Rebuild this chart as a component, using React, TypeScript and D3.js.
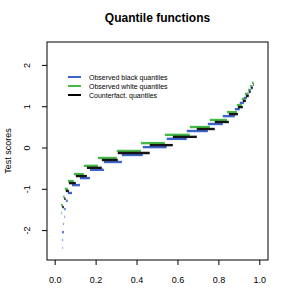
import React, { useRef, useEffect } from 'react'
import * as d3 from 'd3'

// quantile steps: [score level, tau from, tau to]
const blackQuantiles: [number, number, number][] = [
  [-2.37, 0.033, 0.035], [-2.18, 0.033, 0.038], [-1.99, 0.033, 0.043], [-1.79, 0.038, 0.043],
  [-1.62, 0.043, 0.047], [-1.43, 0.043, 0.052], [-1.23, 0.052, 0.062], [-1.04, 0.062, 0.082],
  [-0.85, 0.082, 0.121], [-0.68, 0.121, 0.17], [-0.48, 0.17, 0.238], [-0.29, 0.238, 0.326],
  [-0.12, 0.326, 0.428], [0.07, 0.428, 0.545], [0.27, 0.545, 0.643], [0.46, 0.643, 0.746],
  [0.63, 0.746, 0.819], [0.82, 0.819, 0.878], [0.99, 0.878, 0.902], [1.14, 0.902, 0.922],
  [1.26, 0.922, 0.937], [1.36, 0.937, 0.946], [1.45, 0.946, 0.956], [1.53, 0.956, 0.966]
]

const whiteQuantiles: [number, number, number][] = [
  [-1.62, 0.028, 0.033], [-1.43, 0.028, 0.038], [-1.23, 0.038, 0.047], [-1.04, 0.047, 0.062],
  [-0.85, 0.062, 0.091], [-0.68, 0.091, 0.14], [-0.48, 0.14, 0.209], [-0.29, 0.209, 0.301],
  [-0.12, 0.301, 0.419], [0.07, 0.419, 0.536], [0.27, 0.536, 0.658], [0.46, 0.658, 0.756],
  [0.63, 0.756, 0.839], [0.82, 0.839, 0.888], [0.99, 0.888, 0.912], [1.14, 0.912, 0.927],
  [1.26, 0.927, 0.942], [1.36, 0.942, 0.951], [1.45, 0.951, 0.961], [1.53, 0.961, 0.971]
]

const counterfactQuantiles: [number, number, number][] = [
  [-1.43, 0.033, 0.043], [-1.23, 0.043, 0.052], [-1.04, 0.052, 0.067], [-0.85, 0.067, 0.101],
  [-0.68, 0.101, 0.155], [-0.48, 0.155, 0.228], [-0.29, 0.228, 0.306], [-0.12, 0.306, 0.462],
  [0.07, 0.462, 0.575], [0.27, 0.575, 0.692], [0.46, 0.692, 0.78], [0.63, 0.78, 0.849],
  [0.82, 0.849, 0.893], [0.99, 0.893, 0.917], [1.14, 0.917, 0.932], [1.26, 0.932, 0.946],
  [1.36, 0.946, 0.956], [1.45, 0.956, 0.966], [1.53, 0.966, 0.971]
]

const xTicks = [0, 0.2, 0.4, 0.6, 0.8, 1.0]
const yTicks = [-2, -1, 0, 1, 2]
const legendLabels = ['Observed black quantiles', 'Observed white quantiles', 'Counterfact. quantiles']

const W = 292
const H = 302
const FONT = 'Liberation Sans, Arial, Helvetica, sans-serif'

export default function App() {
  const svgRef = useRef<SVGSVGElement | null>(null)

  useEffect(() => {
    if (!svgRef.current) return
    const svg = d3.select(svgRef.current)
    svg.selectAll('*').remove()

    const margin = { top: 42, right: 24, bottom: 42, left: 47 }
    const x = d3.scaleLinear().domain([-0.04, 1.04]).range([margin.left, W - margin.right])
    const y = d3.scaleLinear().domain([-2.712, 2.567]).range([H - margin.bottom, margin.top])

    svg.append('rect').attr('width', W).attr('height', H).attr('fill', '#fff')

    // series: blue drawn low, green high, black in the middle
    const series = [
      { data: blackQuantiles, color: '#3d62c9', dy: 2 },
      { data: whiteQuantiles, color: '#45b845', dy: -2 },
      { data: counterfactQuantiles, color: '#151515', dy: 0 }
    ]

    series.forEach(s => {
      svg.append('g')
        .selectAll('line')
        .data(s.data)
        .enter().append('line')
        .attr('x1', d => x(d[1]))
        .attr('x2', d => Math.max(x(d[2]), x(d[1]) + 1.2))
        .attr('y1', d => y(d[0]) + s.dy)
        .attr('y2', d => y(d[0]) + s.dy)
        .attr('stroke', s.color)
        .attr('stroke-width', 2.4)
        .attr('opacity', d => Math.min(1, 0.3 + (x(d[2]) - x(d[1])) / 4))
    })

    // box
    svg.append('rect')
      .attr('x', x(-0.04)).attr('y', y(2.567))
      .attr('width', x(1.04) - x(-0.04)).attr('height', y(-2.712) - y(2.567))
      .attr('fill', 'none').attr('stroke', '#000').attr('stroke-width', 1)

    // x axis
    const xg = svg.append('g')
    xg.selectAll('line').data(xTicks).enter().append('line')
      .attr('x1', d => x(d)).attr('x2', d => x(d))
      .attr('y1', y(-2.712)).attr('y2', y(-2.712) + 5)
      .attr('stroke', '#000')
    xg.selectAll('text').data(xTicks).enter().append('text')
      .attr('x', d => x(d)).attr('y', y(-2.712) + 23)
      .attr('text-anchor', 'middle')
      .style('font-family', FONT).style('font-size', '9px')
      .text(d => d.toFixed(1))

    // y axis
    const yg = svg.append('g')
    yg.selectAll('line').data(yTicks).enter().append('line')
      .attr('x1', x(-0.04)).attr('x2', x(-0.04) - 5)
      .attr('y1', d => y(d)).attr('y2', d => y(d))
      .attr('stroke', '#000')
    yg.selectAll('text').data(yTicks).enter().append('text')
      .attr('transform', d => `translate(${x(-0.04) - 20},${y(d)}) rotate(-90)`)
      .attr('text-anchor', 'middle')
      .attr('dy', '0.35em')
      .style('font-family', FONT).style('font-size', '9px')
      .text(d => String(d))

    svg.append('text')
      .attr('transform', `translate(11,${(y(2.567) + y(-2.712)) / 2}) rotate(-90)`)
      .attr('text-anchor', 'middle')
      .style('font-family', FONT).style('font-size', '9px')
      .text('Test scores')

    svg.append('text')
      .attr('x', (x(-0.04) + x(1.04)) / 2).attr('y', 22)
      .attr('text-anchor', 'middle')
      .style('font-family', FONT).style('font-size', '12px').style('font-weight', 'bold')
      .text('Quantile functions')

    // legend
    const legendColors = ['#3d62c9', '#45b845', '#000']
    const lg = svg.append('g').attr('transform', 'translate(68,77)')
    legendLabels.forEach((label, i) => {
      lg.append('line')
        .attr('x1', 0).attr('x2', 13)
        .attr('y1', i * 9).attr('y2', i * 9)
        .attr('stroke', legendColors[i]).attr('stroke-width', 2)
      lg.append('text')
        .attr('x', 21).attr('y', i * 9 + 2.5)
        .style('font-family', FONT).style('font-size', '7px')
        .text(label)
    })
  }, [])

  return (
    <svg
      ref={svgRef}
      width={W}
      height={H}
      style={{ position: 'absolute', left: 0, top: 0 }}
    />
  )
}
